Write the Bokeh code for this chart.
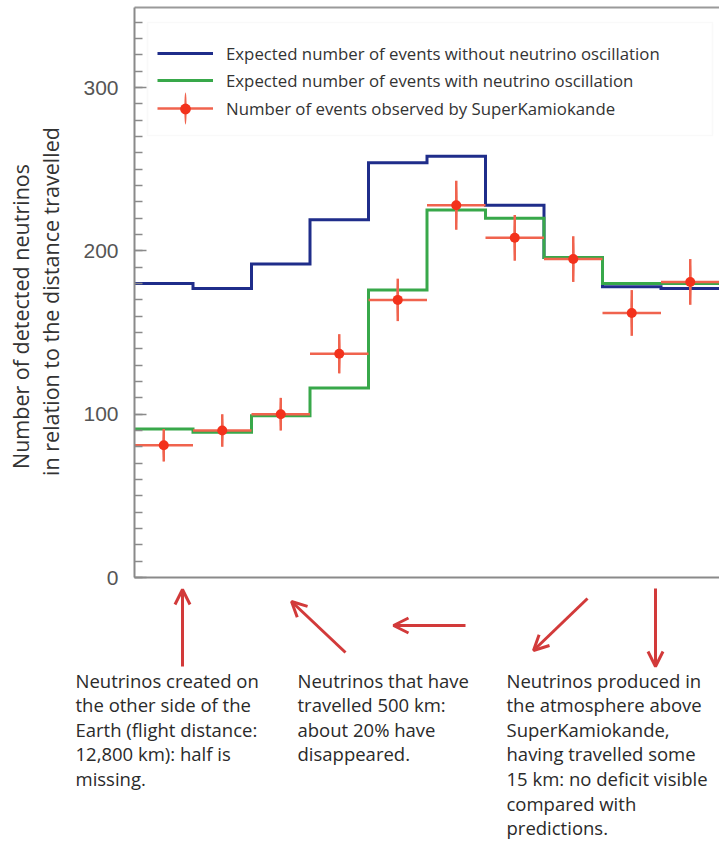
import math
from bokeh.plotting import figure
from bokeh.models import (Range1d, FixedTicker, LinearAxis, Legend, LegendItem,
                          Arrow, OpenHead, BoxAnnotation, ColumnDataSource)
from bokeh.core.properties import value
from bokeh.embed import file_html
from bokeh.resources import INLINE

# ---------------- data ----------------
cos_zenith_edges = [-1.0, -0.8, -0.6, -0.4, -0.2, 0.0, 0.2, 0.4, 0.6, 0.8, 1.0]
expected_no_osc = [180, 177, 192, 219, 254, 258, 228, 196, 178, 177]
expected_osc = [91, 89, 99, 116, 176, 225, 220, 196, 180, 180]
observed = [81, 90, 100, 137, 170, 228, 208, 195, 162, 181]
observed_err = [10, 10, 10, 12, 13, 15, 14, 14, 14, 14]
y_ticks = [0, 100, 200, 300]
legend_labels = ["Expected number of events without neutrino oscillation",
                 "Expected number of events with neutrino oscillation",
                 "Number of events observed by SuperKamiokande"]
y_title = ["Number of detected neutrinos", "in relation to the distance travelled"]
notes = ["Neutrinos created on\nthe other side of the\nEarth (flight distance:\n12,800 km): half is\nmissing.",
         "Neutrinos that have\ntravelled 500 km:\nabout 20% have\ndisappeared.",
         "Neutrinos produced in\nthe atmosphere above\nSuperKamiokande,\nhaving travelled some\n15 km: no deficit visible\ncompared with\npredictions."]

BLUE = "#1f2d8a"
GREEN = "#38a84a"
RED_BAR = "#f0634e"
RED_DOT = "#f3321c"
ARROW = "#d23a3a"
GRAY = "#8a8a8a"

# ---------------- layout (page pixels -> data) ----------------
W, H = 719, 841
X_LEFT_PX, X_SCALE = 134, 292.5      # page x of cos=-1, pixels per unit of cos
Y_ZERO_PX, Y_SCALE = 577, 1.633      # page y of 0 events, pixels per event


def px(x_page):
    return -1 + (x_page - X_LEFT_PX) / X_SCALE


def py(y_page):
    return (Y_ZERO_PX - y_page) / Y_SCALE


left_edges = cos_zenith_edges[:-1]
right_edges = cos_zenith_edges[1:]
centers = [(a + b) / 2 for a, b in zip(left_edges, right_edges)]

p = figure(width=W, height=H, output_backend="svg", toolbar_location=None,
           x_range=Range1d(px(0), px(W)), y_range=Range1d(py(H), py(0)),
           min_border=0, background_fill_color="white", border_fill_color="white")
p.outline_line_color = None
p.grid.visible = False

TOP = py(7)

ya = p.yaxis[0]
ya.fixed_location = -1.0
ya.bounds = (0, TOP)
ya.ticker = FixedTicker(ticks=y_ticks, minor_ticks=list(range(0, 350, 10)))
ya.major_tick_in = 12
ya.major_tick_out = 0
ya.minor_tick_in = 8
ya.minor_tick_out = 0
ya.major_tick_line_color = GRAY
ya.minor_tick_line_color = GRAY
ya.major_tick_line_width = 1.5
ya.minor_tick_line_width = 1.5
ya.axis_line_color = GRAY
ya.axis_line_width = 2
ya.major_label_standoff = 16
ya.major_label_text_font = "Liberation Sans"
ya.major_label_text_font_size = "21px"
ya.major_label_text_color = "#555555"

xa = p.xaxis[0]
xa.fixed_location = 0
xa.bounds = (-1.0, 1.0)
xa.ticker = FixedTicker(ticks=[])
xa.major_label_text_font_size = "0px"
xa.major_tick_in = 0
xa.major_tick_out = 0
xa.minor_tick_in = 0
xa.minor_tick_out = 0
xa.axis_line_color = GRAY
xa.axis_line_width = 2

top_axis = LinearAxis(fixed_location=TOP, bounds=(-1.0, 1.0), ticker=FixedTicker(ticks=[]),
                      major_label_text_font_size="0px", major_tick_in=0, major_tick_out=0,
                      minor_tick_in=0, minor_tick_out=0, axis_line_color="#9a9a9a",
                      axis_line_width=2)
p.add_layout(top_axis, "above")

r_blue = p.step(x=cos_zenith_edges, y=expected_no_osc + expected_no_osc[-1:], mode="after",
                line_color=BLUE, line_width=3, line_join="miter")
r_green = p.step(x=cos_zenith_edges, y=expected_osc + expected_osc[-1:], mode="after",
                 line_color=GREEN, line_width=3, line_join="miter")

src = ColumnDataSource(dict(x=centers, x0=left_edges, x1=right_edges, y=observed,
                            lo=[o - e for o, e in zip(observed, observed_err)],
                            hi=[o + e for o, e in zip(observed, observed_err)],
                            h=[2 * e for e in observed_err]))
r_hbar = p.segment(x0="x0", y0="y", x1="x1", y1="y", source=src, line_color=RED_BAR, line_width=2.5)
r_ell = p.ellipse(x="x", y="y", width=2.4, height="h", width_units="screen", source=src,
                  fill_color=RED_BAR, line_color=None)
r_vbar = p.segment(x0="x", y0="lo", x1="x", y1="hi", source=src, line_color=RED_BAR, line_width=2.5)
r_dot = p.scatter(x="x", y="y", source=src, size=10, fill_color=RED_DOT, line_color=None)

common = dict(glyph_width=56, spacing=3, padding=0, label_standoff=13, margin=0,
              label_text_font="Open Sans", label_text_font_size="16.8px",
              border_line_color=None, background_fill_alpha=0)
legA = Legend(items=[LegendItem(label=legend_labels[0], renderers=[r_blue]),
                     LegendItem(label=legend_labels[1], renderers=[r_green])],
              location=(157, H - 92), glyph_height=24, label_text_color="#333333", **common)
legB = Legend(items=[LegendItem(label=legend_labels[2], renderers=[r_hbar, r_ell])],
              location=(157, H - 128), glyph_height=40, label_text_color="#333333", **common)
legC = Legend(items=[LegendItem(label=" ", renderers=[r_dot])],
              location=(157, H - 121.5), glyph_height=27, label_text_alpha=0, **common)
p.add_layout(BoxAnnotation(left=px(147), right=px(712), bottom=py(135), top=py(22),
                           fill_alpha=0, line_color="#ececec", line_width=1.5))
p.add_layout(legA)
p.add_layout(legB)
p.add_layout(legC)

# y title (two rotated lines)
p.text(x=[px(20), px(50)], y=[py(316), py(301)], text=y_title, angle=math.pi / 2,
       text_align="center", text_baseline="middle", text_font=value("Open Sans"),
       text_font_size="21.5px", text_color="#333333")

# ---------------- annotations below the chart ----------------
arrows = [((182, 666), (182, 589)), ((345, 652), (291, 601)), ((465, 625), (393, 625)),
          ((587, 598), (533, 650)), ((655, 588), (655, 666))]
for (xs, ys), (xe, ye) in arrows:
    p.add_layout(Arrow(x_start=px(xs), y_start=py(ys), x_end=px(xe), y_end=py(ye),
                       line_color=ARROW, line_width=3,
                       end=OpenHead(size=15, line_color=ARROW, line_width=3)))

p.text(x=[px(75), px(297), px(506)], y=[py(667)] * 3, text=notes, text_baseline="top",
       text_align="left", text_font=value("Open Sans"), text_font_size="18.5px",
       text_line_height=0.984, text_color="#2a2a2a")

open("out.html", "w").write(file_html(p, INLINE))
